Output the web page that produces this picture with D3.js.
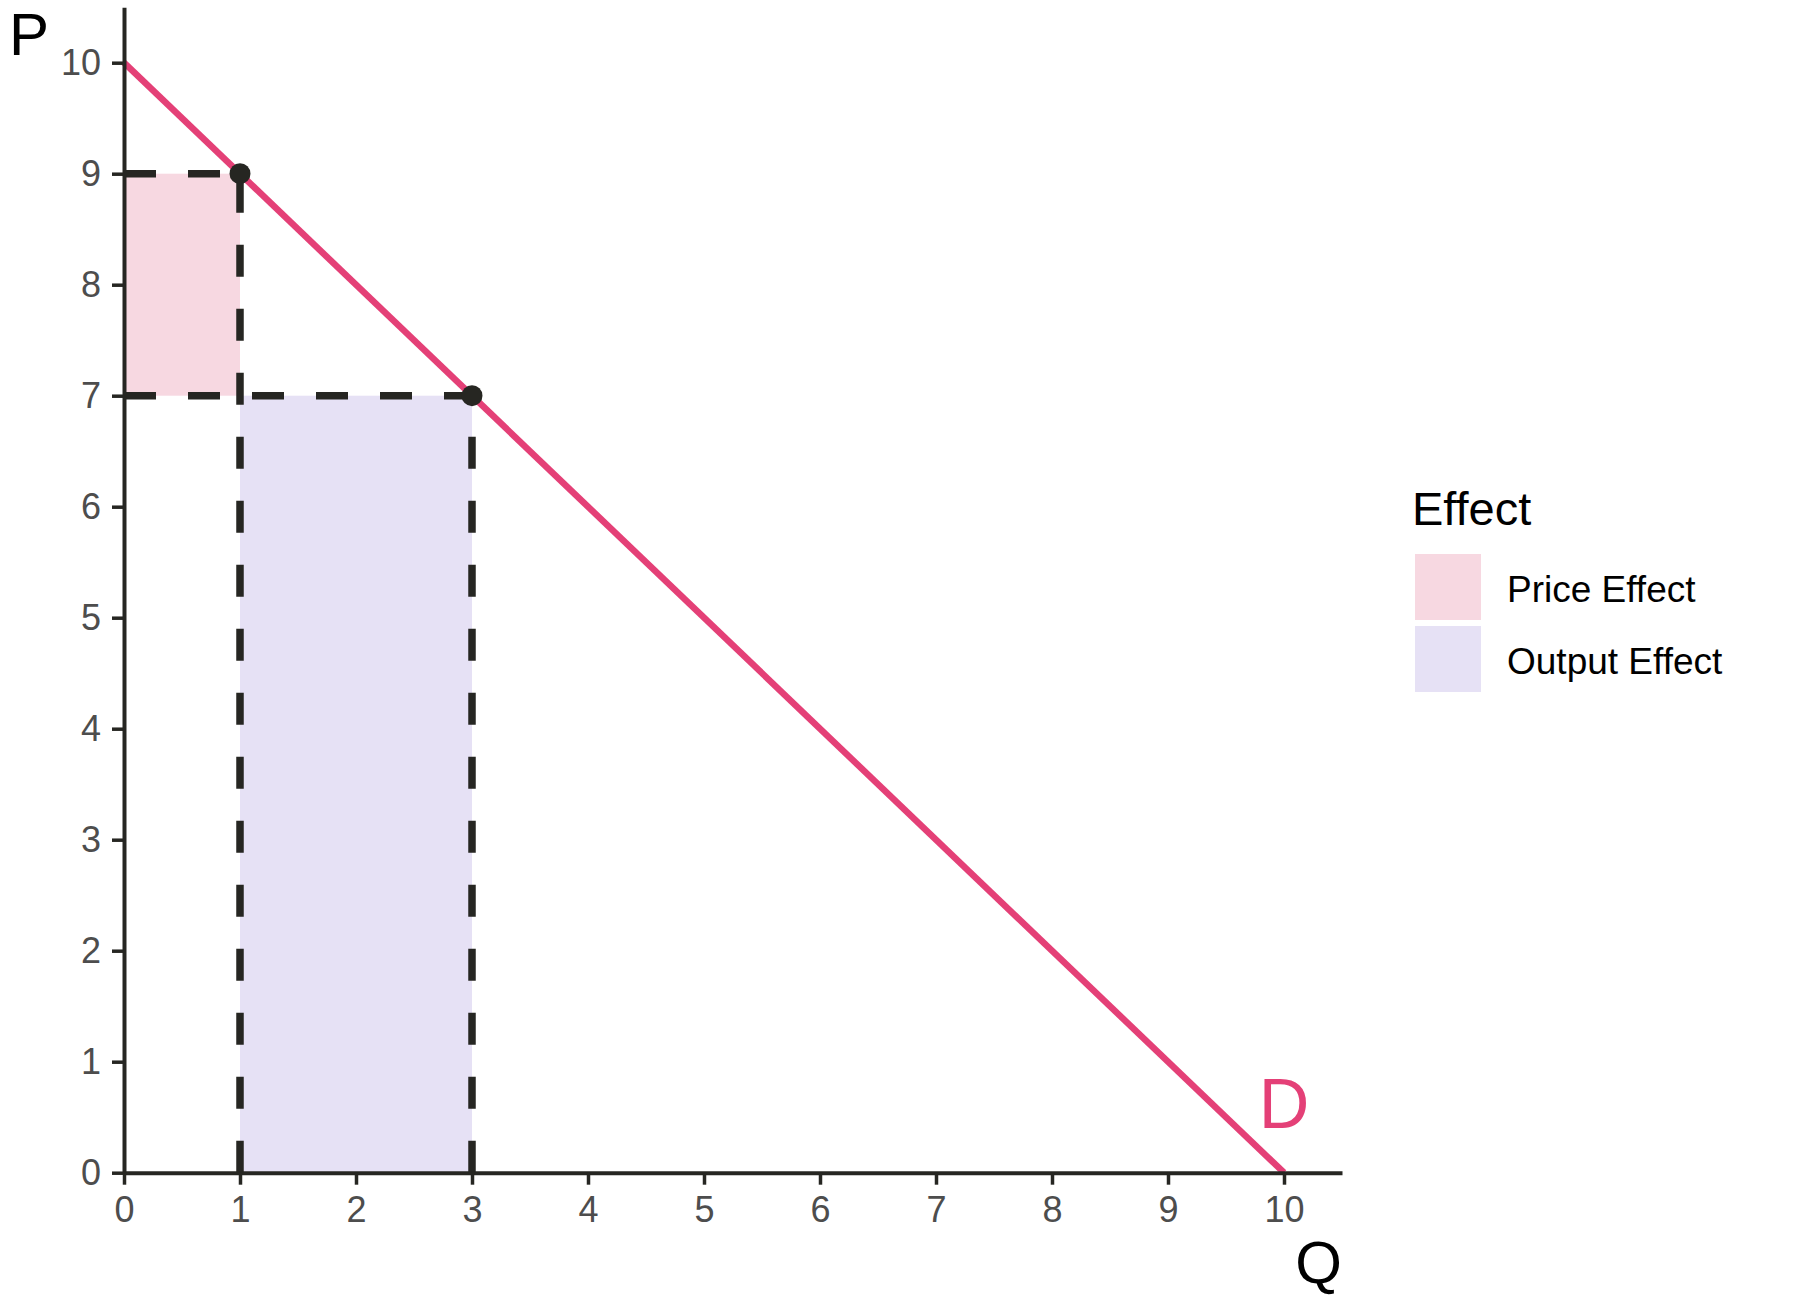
<!DOCTYPE html>
<html>
<head>
<meta charset="utf-8">
<script src="https://cdn.jsdelivr.net/npm/d3@7"></script>
<style>
  html, body { margin: 0; padding: 0; background: #ffffff; }
  svg { display: block; font-family: "Liberation Sans", Arial, sans-serif; }
</style>
</head>
<body>
<svg id="chart" width="1800" height="1308"></svg>
<script>
// ---- data ----
const tickValues = [0, 1, 2, 3, 4, 5, 6, 7, 8, 9, 10];
const demandQ = [0, 10];
const demandP = [10, 0];
const pointQ = [1, 3];
const pointP = [9, 7];
const effectNames = ["Price Effect", "Output Effect"];
const effectColors = ["#f7d8e1", "#e6e1f5"];
const effectQ0 = [0, 1];
const effectQ1 = [1, 3];
const effectP0 = [7, 0];
const effectP1 = [9, 7];
// dashed guide segments: [q0, p0, q1, p1]
const guideQ0 = [0, 0, 1, 3];
const guideP0 = [9, 7, 0, 0];
const guideQ1 = [1, 3, 1, 3];
const guideP1 = [9, 7, 9, 7];
const demandLabel = "D";
const demandLabelQ = 10;
const demandLabelP = 0.4;

// ---- layout ----
const svg = d3.select("#chart");
const x = d3.scaleLinear().domain([0, 10.5]).range([124, 1342]);
const y = d3.scaleLinear().domain([0, 10.5]).range([1172.7, 7.2]);

const lineColor = "#e44077";
const darkColor = "#262622";

// effect rectangles
svg.append("g").selectAll("rect")
  .data(effectNames.map((n, i) => ({ n, i })))
  .join("rect")
  .attr("x", d => x(effectQ0[d.i]))
  .attr("y", d => y(effectP1[d.i]))
  .attr("width", d => x(effectQ1[d.i]) - x(effectQ0[d.i]))
  .attr("height", d => y(effectP0[d.i]) - y(effectP1[d.i]))
  .attr("fill", d => effectColors[d.i]);

// dashed guides
svg.append("g").selectAll("line")
  .data(guideQ0.map((_, i) => i))
  .join("line")
  .attr("x1", i => x(guideQ0[i]))
  .attr("y1", i => y(guideP0[i]))
  .attr("x2", i => x(guideQ1[i]))
  .attr("y2", i => y(guideP1[i]))
  .attr("stroke", darkColor)
  .attr("stroke-width", 7.5)
  .attr("stroke-dasharray", "32,32");

// demand line
svg.append("path")
  .datum(demandQ.map((q, i) => [q, demandP[i]]))
  .attr("d", d3.line().x(d => x(d[0])).y(d => y(d[1])))
  .attr("fill", "none")
  .attr("stroke", lineColor)
  .attr("stroke-width", 6.5);

// axes
const yAxis = svg.append("g")
  .attr("transform", `translate(${x(0)},0)`)
  .call(d3.axisLeft(y).tickValues(tickValues).tickSize(12).tickSizeOuter(0).tickPadding(11));
const xAxis = svg.append("g")
  .attr("transform", `translate(0,${y(0)})`)
  .call(d3.axisBottom(x).tickValues(tickValues).tickSize(12).tickSizeOuter(0).tickPadding(12));
[xAxis, yAxis].forEach(g => {
  g.select(".domain").attr("stroke", darkColor).attr("stroke-width", 4);
  g.selectAll(".tick line").attr("stroke", darkColor).attr("stroke-width", 3.5);
  g.selectAll(".tick text")
    .attr("fill", "#4d4d4d")
    .style("font-size", "36px")
    .style("font-family", "'Liberation Sans', Arial, sans-serif");
});

// points
svg.append("g").selectAll("circle")
  .data(pointQ.map((q, i) => [q, pointP[i]]))
  .join("circle")
  .attr("cx", d => x(d[0]))
  .attr("cy", d => y(d[1]))
  .attr("r", 10.5)
  .attr("fill", darkColor);

// D label
svg.append("text")
  .attr("x", x(demandLabelQ))
  .attr("y", y(demandLabelP))
  .attr("text-anchor", "middle")
  .attr("fill", lineColor)
  .style("font-size", "70px")
  .text(demandLabel);

// axis titles
svg.append("text")
  .attr("x", 9).attr("y", 55)
  .attr("fill", "#000")
  .style("font-size", "60px")
  .text("P");
svg.append("text")
  .attr("x", 1342).attr("y", 1283)
  .attr("text-anchor", "end")
  .attr("fill", "#000")
  .style("font-size", "60px")
  .text("Q");

// legend
const legend = svg.append("g");
legend.append("text")
  .attr("x", 1412).attr("y", 525)
  .attr("fill", "#000")
  .style("font-size", "47px")
  .text("Effect");
const items = legend.selectAll("g.item")
  .data(effectNames.map((n, i) => ({ n, i })))
  .join("g")
  .attr("class", "item")
  .attr("transform", d => `translate(1415,${554 + d.i * 72})`);
items.append("rect")
  .attr("width", 66).attr("height", 66)
  .attr("fill", d => effectColors[d.i]);
items.append("text")
  .attr("x", 92).attr("y", 47.5)
  .attr("fill", "#000")
  .style("font-size", "37px")
  .text(d => d.n);
</script>
</body>
</html>
